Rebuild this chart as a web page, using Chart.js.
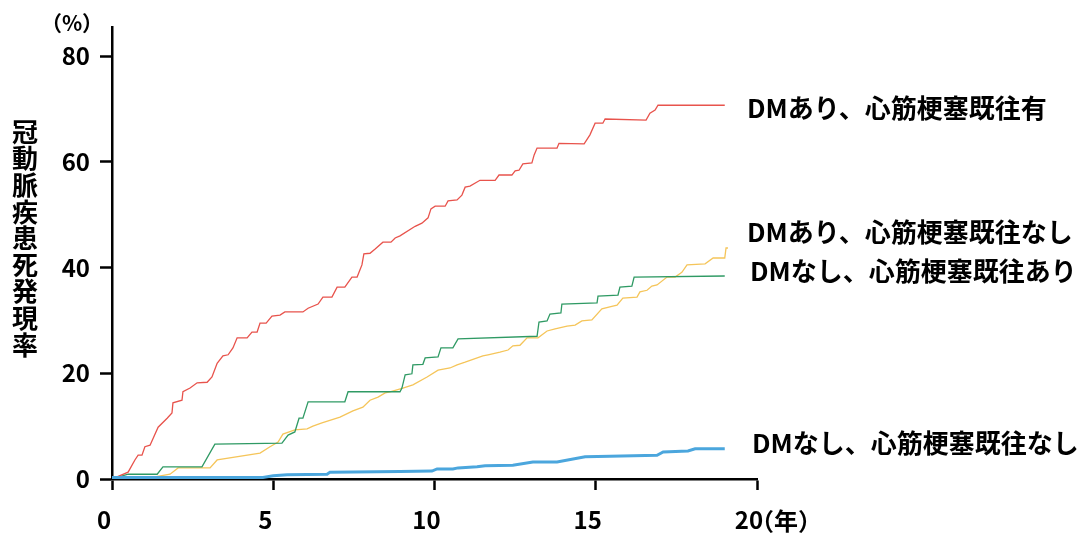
<!DOCTYPE html>
<html>
<head>
<meta charset="utf-8">
<script src="https://cdn.jsdelivr.net/npm/chart.js@4.4.1/dist/chart.umd.min.js"></script>
<style>
  html, body { margin:0; padding:0; background:#fff; }
  #chart { display:block; }
</style>
</head>
<body>
<canvas id="chart" width="1077" height="536"></canvas>
<script>
// ----- DATA (years, cumulative %) -----
const redYears = [0,0.5,0.71,0.81,0.93,1.02,1.18,1.43,1.71,1.86,1.89,2.17,2.2,2.42,2.64,2.95,3.1,3.26,3.44,3.6,3.75,3.88,4.19,4.34,4.5,4.59,4.78,4.96,5.21,5.36,5.92,6.08,6.39,6.54,6.82,6.98,7.22,7.44,7.6,7.75,7.81,8.0,8.16,8.4,8.65,8.78,8.93,9.4,9.61,9.8,9.89,10.02,10.33,10.42,10.7,10.85,10.95,11.1,11.41,11.88,12.0,12.4,12.5,12.62,12.74,13.02,13.09,13.18,13.8,13.86,14.64,14.82,14.98,15.22,15.29,16.56,16.68,16.84,16.93,19.0];
const redRates = [0,1.3,3.6,4.5,4.5,6.1,6.4,9.8,11.5,12.5,14.4,14.9,16.5,17.2,18.2,18.3,19.3,21.9,23.3,23.5,24.8,26.7,26.7,27.8,27.8,29.5,29.5,30.8,31.0,31.6,31.6,32.3,33.1,34.4,34.4,36.3,36.3,38.2,38.2,40.5,42.6,42.7,43.5,44.8,44.8,45.6,46.0,47.8,48.4,49.4,51.1,51.6,51.6,52.6,52.8,53.7,55.2,55.4,56.5,56.5,57.5,57.5,58.3,58.4,59.6,59.8,61.3,62.6,62.6,63.5,63.4,65.1,67.3,67.3,68.1,67.9,69.2,69.8,70.7,70.7];

const yellowYears = [0,1.33,1.8,2.05,3.04,3.26,4.59,4.9,5.15,5.3,5.67,6.05,6.23,6.51,7.07,7.47,7.78,8.0,8.25,8.47,8.62,9.02,9.33,9.77,10.11,10.48,10.7,10.95,11.5,11.66,12.03,12.28,12.43,12.65,12.87,13.21,13.49,13.74,14.11,14.36,14.57,14.88,15.19,15.53,15.66,15.84,16.28,16.37,16.59,16.74,16.9,17.21,17.46,17.67,17.83,18.39,18.64,19.0,19.04,19.1];
const yellowRates = [0,0.4,0.9,2.1,2.1,3.6,4.9,6.1,7.0,8.5,9.3,9.5,10.0,10.6,11.7,12.9,13.6,14.9,15.5,16.3,16.5,17.2,17.8,19.3,20.6,21.0,21.6,22.1,23.3,23.5,24.0,24.4,25.2,25.3,26.7,26.7,28.0,28.4,28.9,29.1,29.9,30.1,32.2,32.7,32.9,34.2,34.4,35.4,35.7,36.5,36.7,38.2,38.2,39.1,40.5,40.7,41.8,41.8,43.7,43.7];

const greenYears = [0,0.5,1.4,1.58,2.79,3.19,5.27,5.46,5.67,5.8,5.92,6.08,7.22,7.32,8.93,8.99,9.09,9.3,9.33,9.64,9.71,10.11,10.2,10.57,10.73,13.18,13.24,13.49,13.58,13.92,13.95,15.04,15.07,15.69,15.75,16.12,16.19,19.0];
const greenRates = [0,0.9,0.9,2.3,2.3,6.6,6.8,8.3,8.9,11.5,11.5,14.6,14.6,16.5,16.5,17.2,19.7,19.9,21.6,21.7,22.9,23.1,24.8,24.8,26.5,27.0,29.7,29.9,31.2,31.4,33.1,33.3,34.6,34.8,36.3,36.5,38.2,38.4];

const blueYears = [0,4.68,5.0,5.43,6.67,6.76,8.93,9.92,10.08,10.57,10.73,11.32,11.57,12.43,13.05,13.8,14.67,15.44,16.9,17.09,17.86,18.08,19.0];
const blueRates = [0.3,0.3,0.6,0.8,0.9,1.3,1.4,1.5,1.9,1.9,2.1,2.3,2.5,2.6,3.2,3.2,4.2,4.3,4.5,5.1,5.3,5.7,5.7];

const yTicks = [0,20,40,60,80];
const seriesNames = ['DMあり、心筋梗塞既往有','DMあり、心筋梗塞既往なし','DMなし、心筋梗塞既往あり','DMなし、心筋梗塞既往なし'];
const yTitle = '冠動脈疾患死発現率';

// ----- HELPERS -----
function pts(xs, ys){ return xs.map((x,i)=>({x, y:ys[i]})); }

const FONT = "'Noto Sans CJK JP', 'Noto Sans', sans-serif";

// label anchors: text, value on y axis, x pixel
const seriesLabels = [
  {text:seriesNames[0], value:70.2, x:747},
  {text:seriesNames[1], value:46.7, x:747},
  {text:seriesNames[2], value:39.3, x:750},
  {text:seriesNames[3], value:6.8,  x:752}
];

const textPlugin = {
  id:'texts',
  afterDraw(chart){
    const {ctx, scales:{x, y}} = chart;
    ctx.save();
    ctx.fillStyle = '#000';
    // series labels
    ctx.font = 'bold 26px ' + FONT;
    ctx.textAlign = 'left';
    ctx.textBaseline = 'middle';
    seriesLabels.forEach(l=>ctx.fillText(l.text, l.x, y.getPixelForValue(l.value)));
    // vertical y title
    ctx.font = 'bold 26px ' + FONT;
    ctx.textAlign = 'center';
    [...yTitle].forEach((ch,i)=>ctx.fillText(ch, 25, 132 + i*26.6));
    // unit labels
    ctx.font = 'bold 21px ' + FONT;
    ctx.fillText('（%）', 72, 23);
    ctx.font = 'bold 24px ' + FONT;
    ctx.textAlign = 'left';
    ctx.fillText('（年）', 750, 521);
    ctx.restore();
  }
};

const ctx = document.getElementById('chart').getContext('2d');
new Chart(ctx, {
  type:'line',
  data:{
    datasets:[
      {data:pts(blueYears, blueRates), borderColor:'#4ba6dd', borderWidth:3, clip:false},
      {data:pts(redYears, redRates), borderColor:'#e8534c', borderWidth:1.3},
      {data:pts(greenYears, greenRates), borderColor:'#2f9a64', borderWidth:1.3},
      {data:pts(yellowYears, yellowRates), borderColor:'#f5c55a', borderWidth:1.3}
    ]
  },
  options:{
    responsive:false,
    animation:false,
    devicePixelRatio:1,
    layout:{ padding:{ left:0, top:27, right:320, bottom:0 } },
    elements:{ point:{ radius:0 }, line:{ tension:0 } },
    plugins:{ legend:{ display:false }, tooltip:{ enabled:false } },
    scales:{
      x:{
        type:'linear', min:0, max:20,
        afterFit(s){ s.height = 57; },
        grid:{ drawOnChartArea:false, drawTicks:true, tickLength:11, tickColor:'#000', tickWidth:2.5 },
        border:{ display:true, color:'#000', width:2.5 },
        ticks:{ stepSize:5, color:'#000', padding:15, labelOffset:-8, maxRotation:0, font:{ family:FONT, size:24, weight:'bold' } }
      },
      y:{
        min:0, max:85.5,
        afterFit(s){ s.width = 112; },
        afterBuildTicks(s){ s.ticks = yTicks.map(v=>({value:v})); },
        grid:{ drawOnChartArea:false, drawTicks:true, tickLength:12, tickColor:'#000', tickWidth:2.5 },
        border:{ display:true, color:'#000', width:2.5 },
        ticks:{ color:'#000', padding:10, font:{ family:FONT, size:24, weight:'bold' } }
      }
    }
  },
  plugins:[textPlugin]
});
</script>
</body>
</html>
